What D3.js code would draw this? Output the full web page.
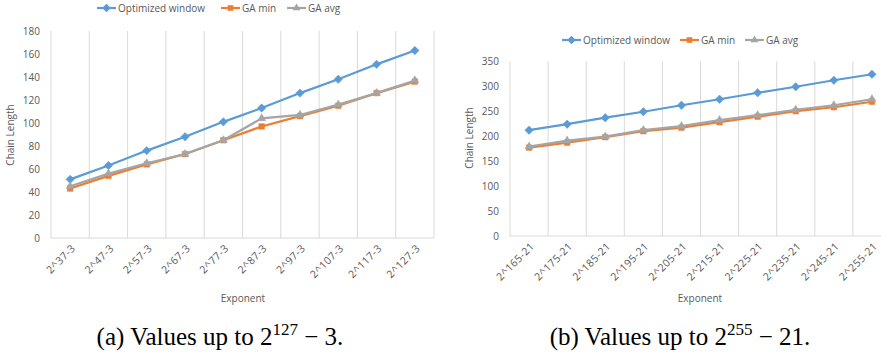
<!DOCTYPE html>
<html>
<head>
<meta charset="utf-8">
<script src="https://cdn.jsdelivr.net/npm/d3@7"></script>
<style>
  body { margin: 0; background: #fff; }
  svg { display: block; }
  text { font-family: "Open Sans", sans-serif; fill: #595959; }
  .caption { font-family: "Liberation Serif", "DejaVu Serif", serif; fill: #000; }
</style>
</head>
<body>
<div id="chart"></div>
<script>
// data
const seriesNames = ["Optimized window", "GA min", "GA avg"];

const catsA = ["2^37-3", "2^47-3", "2^57-3", "2^67-3", "2^77-3", "2^87-3", "2^97-3", "2^107-3", "2^117-3", "2^127-3"];
const optA = [51, 63, 76, 88, 101, 113, 126, 138, 151, 163];
const minA = [43, 54, 64, 73, 85, 97, 106, 115, 126, 136];
const avgA = [45, 56, 65, 73, 85, 104, 107, 116, 126, 137];

const catsB = ["2^165-21", "2^175-21", "2^185-21", "2^195-21", "2^205-21", "2^215-21", "2^225-21", "2^235-21", "2^245-21", "2^255-21"];
const optB = [212, 224, 237, 249, 262, 274, 287, 299, 312, 324];
const minB = [177, 187, 198, 210, 217, 228, 239, 250, 258, 269];
const avgB = [179, 191, 199, 212, 220, 232, 242, 253, 262, 274];

const colors = ["#5B9BD5", "#ED7D31", "#A5A5A5"];
const symbols = [d3.symbolDiamond2, d3.symbolSquare2, d3.symbolTriangle2];
const symSizes = [45, 40, 45];

const svg = d3.select("#chart").append("svg").attr("width", 881).attr("height", 356);

drawChart({
  cats: catsA, series: [optA, minA, avgA],
  x0: 51, x1: 434, yTop: 31, yBot: 238, yMax: 180, yStep: 20,
  legendY: 8, legendX: [97, 221, 287], yTitleX: 14, yTitleY: 135, xTitleX: 243
});
drawChart({
  cats: catsB, series: [optB, minB, avgB],
  x0: 510, x1: 891, yTop: 61.3, yBot: 236, yMax: 350, yStep: 50,
  legendY: 40, legendX: [562, 680, 745], yTitleX: 473, yTitleY: 138, xTitleX: 700
});

// captions (LaTeX-like)
caption(220, "(a)", "127", "3.");
caption(680, "(b)", "255", "21.");

function caption(cx, tag, expo, tail) {
  const t = svg.append("text").attr("class", "caption")
    .attr("x", cx).attr("y", 345).attr("text-anchor", "middle")
    .attr("font-size", 25);
  t.append("tspan").text(tag + " Values up to 2");
  t.append("tspan").attr("font-size", 17).attr("dy", -10).text(expo);
  t.append("tspan").attr("dy", 10).text(" \u2212 " + tail);
}

function drawChart(c) {
  const g = svg.append("g");

  const x = d3.scaleBand().domain(c.cats).range([c.x0, c.x1]);
  const y = d3.scaleLinear().domain([0, c.yMax]).range([c.yBot, c.yTop]);

  //grid (vertical lines at band edges)
  const edges = c.cats.map((d) => x(d)).concat([c.x1]);
  g.selectAll("line.grid").data(edges).enter().append("line")
    .attr("class", "grid")
    .attr("x1", (d) => d).attr("x2", (d) => d)
    .attr("y1", c.yTop).attr("y2", c.yBot)
    .attr("stroke", "#D9D9D9").attr("stroke-width", 1);

  //x axis line
  g.append("line")
    .attr("x1", c.x0).attr("x2", c.x1)
    .attr("y1", c.yBot).attr("y2", c.yBot)
    .attr("stroke", "#D9D9D9").attr("stroke-width", 1);

  //y axis
  const yAxis = d3.axisLeft(y).tickValues(d3.range(0, c.yMax + 1, c.yStep)).tickSize(0).tickPadding(11);
  const ya = g.append("g").attr("transform", `translate(${c.x0},0)`).call(yAxis);
  ya.select(".domain").remove();
  ya.selectAll("text").attr("font-size", 10).attr("fill", "#595959")
    .style("font-family", "'Open Sans', sans-serif");

  //x labels
  g.selectAll("text.xl").data(c.cats).enter().append("text")
    .attr("class", "xl")
    .attr("font-size", 10.5)
    .attr("letter-spacing", 0.4)
    .attr("text-anchor", "end")
    .attr("transform", (d) => `translate(${x(d) + x.bandwidth() / 2 + 6},${c.yBot + 11}) rotate(-45)`)
    .text((d) => d);

  //titles
  g.append("text")
    .attr("font-size", 10)
    .attr("text-anchor", "middle")
    .attr("transform", `translate(${c.yTitleX},${c.yTitleY}) rotate(-90)`)
    .text("Chain Length");
  g.append("text")
    .attr("font-size", 10)
    .attr("text-anchor", "middle")
    .attr("x", c.xTitleX).attr("y", 302)
    .text("Exponent");

  //lines
  const line = d3.line()
    .x((d, i) => x(c.cats[i]) + x.bandwidth() / 2)
    .y((d) => y(d));

  c.series.forEach((s, k) => {
    g.append("path")
      .attr("d", line(s))
      .attr("fill", "none")
      .attr("stroke", colors[k])
      .attr("stroke-width", 2.2);
    g.selectAll(null).data(s).enter().append("path")
      .attr("d", d3.symbol(symbols[k], symSizes[k]))
      .attr("transform", (d, i) => `translate(${x(c.cats[i]) + x.bandwidth() / 2},${y(d)})`)
      .attr("fill", colors[k])
      .attr("stroke", colors[k])
      .attr("stroke-width", 0.5);
  });

  //legend
  seriesNames.forEach((name, k) => {
    const lx = c.legendX[k];
    const lg = g.append("g").attr("transform", `translate(${lx},${c.legendY})`);
    lg.append("line").attr("x1", 0).attr("x2", 19).attr("y1", 0).attr("y2", 0)
      .attr("stroke", colors[k]).attr("stroke-width", 2.2);
    lg.append("path").attr("d", d3.symbol(symbols[k], symSizes[k]))
      .attr("transform", "translate(9.5,0)").attr("fill", colors[k]);
    lg.append("text").attr("x", 21).attr("y", 0).attr("dy", "0.35em")
      .attr("font-size", 10).text(name);
  });
}
</script>
</body>
</html>
